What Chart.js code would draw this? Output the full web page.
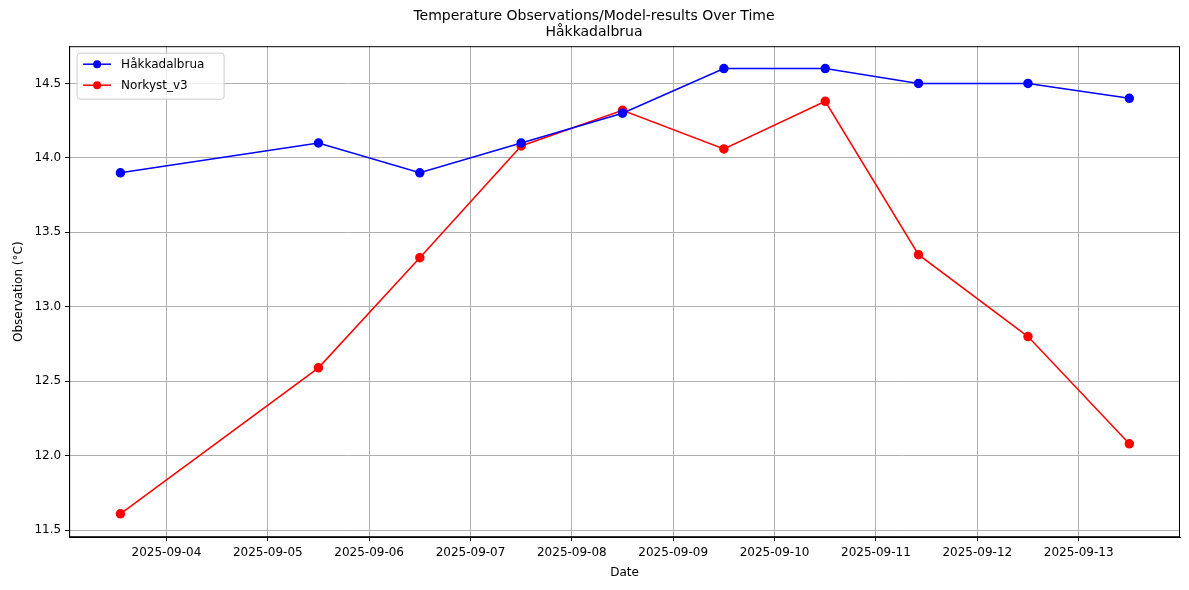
<!DOCTYPE html>
<html><head><meta charset="utf-8">
<script src="https://cdn.jsdelivr.net/npm/chart.js@4"></script>
<style>body{margin:0;background:#fff}#wrap{width:1189px;height:590px}</style>
</head><body><div id="wrap"><canvas id="c"></canvas></div>
<script>
// x values are days in September 2025 (e.g. 4.5 = 2025-09-04 12:00)
const times = [3.546, 5.5, 6.5, 7.5, 8.5, 9.5, 10.5, 11.42, 12.5, 13.5];
const hakkadal = [13.9, 14.1, 13.9, 14.1, 14.3, 14.6, 14.6, 14.5, 14.5, 14.4];
const norkyst = [11.61, 12.59, 13.33, 14.08, 14.32, 14.06, 14.38, 13.35, 12.80, 12.08];
const xTicks = [4, 5, 6, 7, 8, 9, 10, 11, 12, 13];
const yTicks = [11.5, 12.0, 12.5, 13.0, 13.5, 14.0, 14.5];
const seriesNames = ["Håkkadalbrua", "Norkyst_v3"];
const seriesColors = ["#0000ff", "#ff0000"];

const font = { family: "DejaVu Sans", size: 12 };
Chart.defaults.font = font;
Chart.defaults.color = "#000";

const boxLegend = {
  id: "boxLegend",
  afterDraw(chart) {
    const { ctx, chartArea: a } = chart;
    ctx.save();
    ctx.strokeStyle = "#000";
    ctx.lineWidth = 1;
    ctx.strokeRect(a.left + 0.5, a.top + 0.5, a.right - a.left - 1, a.bottom - a.top - 1);
    const x = a.left + 8, y = a.top + 7;
    ctx.fillStyle = "rgba(255,255,255,0.8)";
    ctx.strokeStyle = "#ccc";
    ctx.beginPath();
    ctx.roundRect(x, y, 147, 46, 3);
    ctx.fill(); ctx.stroke();
    ctx.font = "12px DejaVu Sans";
    ctx.textBaseline = "middle";
    seriesNames.forEach((n, i) => {
      const ly = y + 11 + i * 21;
      ctx.strokeStyle = seriesColors[i];
      ctx.lineWidth = 1.5;
      ctx.beginPath(); ctx.moveTo(x + 6, ly); ctx.lineTo(x + 34, ly); ctx.stroke();
      ctx.fillStyle = seriesColors[i];
      ctx.beginPath(); ctx.arc(x + 20, ly, 4, 0, Math.PI * 2); ctx.fill();
      ctx.fillStyle = "#000";
      ctx.fillText(n, x + 44, ly + 1);
    });
    ctx.restore();
  }
};

function fmtDay(v) { return "2025-09-" + String(v).padStart(2, "0"); }

new Chart(document.getElementById("c"), {
  type: "line",
  data: {
    datasets: seriesNames.map((n, i) => ({
      label: n,
      data: times.map((t, j) => ({ x: t, y: (i === 0 ? hakkadal : norkyst)[j] })),
      borderColor: seriesColors[i],
      backgroundColor: seriesColors[i],
      borderWidth: 1.5,
      pointRadius: 4,
      tension: 0,
    })),
  },
  plugins: [boxLegend],
  options: {
    responsive: true,
    maintainAspectRatio: false,
    animation: false,
    layout: { padding: { left: 8, right: 9, top: 2, bottom: 6 } },
    plugins: {
      legend: { display: false },
      tooltip: { enabled: false },
      title: {
        display: true,
        text: ["Temperature Observations/Model-results Over Time", "Håkkadalbrua"],
        font: { family: "DejaVu Sans", size: 14, weight: "normal", lineHeight: 1.15 },
        padding: { top: 6, bottom: 6 },
      },
    },
    scales: {
      x: {
        type: "linear",
        min: 3.04, max: 14.0,
        afterBuildTicks: (s) => { s.ticks = xTicks.map((v) => ({ value: v })); },
        ticks: { callback: (v) => fmtDay(v), maxRotation: 0, autoSkip: false, padding: 4 },
        grid: { color: "#b0b0b0", tickLength: 4, tickColor: "#000" },
        border: { color: "#000" },
        title: { display: true, text: "Date", font, padding: { top: 2 } },
      },
      y: {
        min: 11.453, max: 14.75,
        afterBuildTicks: (s) => { s.ticks = yTicks.map((v) => ({ value: v })); },
        ticks: { callback: (v) => v.toFixed(1), padding: 4 },
        grid: { color: "#b0b0b0", tickLength: 4, tickColor: "#000" },
        border: { color: "#000" },
        title: { display: true, text: "Observation (°C)", font, padding: { bottom: 4 } },
      },
    },
  },
});
</script></body></html>
